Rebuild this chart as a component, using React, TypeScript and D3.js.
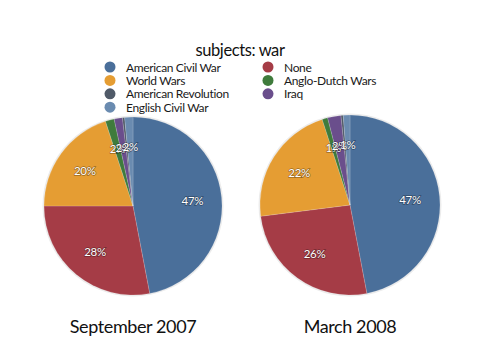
import React from "react";
import * as d3 from "d3";

// legend / slice order (clockwise from 12 o'clock)
const subjects = [
  "American Civil War",
  "None",
  "World Wars",
  "Anglo-Dutch Wars",
  "Iraq",
  "American Revolution",
  "English Civil War",
];
const colors = ["#4a6f9a", "#a53c46", "#e59d33", "#3f7b3c", "#6a4e8c", "#505a68", "#6a8bb0"];

// percentages
const sept2007 = [47, 28, 20, 1.6, 1.5, 0.4, 1.5];
const march2008 = [47, 26, 22, 1.0, 2.4, 0.4, 1.2];

const pieTitles = ["September 2007", "March 2008"];

// legend is laid out in two columns
const legendCol1 = ["American Civil War", "World Wars", "American Revolution", "English Civil War"];
const legendCol2 = ["None", "Anglo-Dutch Wars", "Iraq"];

const FONT = "Lato, 'Open Sans', sans-serif";

const Pie = ({ values, cx, cy, r }: { values: number[]; cx: number; cy: number; r: number }) => {
  const pie = d3.pie<number>().sort(null).value(d => d)(values);
  const arc = d3.arc<d3.PieArcDatum<number>>().innerRadius(0).outerRadius(r);
  const labelArc = d3.arc<d3.PieArcDatum<number>>().innerRadius(r * 0.67).outerRadius(r * 0.67);

  return (
    <g transform={`translate(${cx},${cy})`}>
      <circle r={r + 1.5} fill="#000" opacity={0.08} />
      {pie.map((d, i) => (
        <path key={i} d={arc(d) || ""} fill={colors[i]} stroke="#ffffff" strokeOpacity={0.25} strokeWidth={0.6} />
      ))}
      {pie.map((d, i) => {
        const pct = Math.round(d.data);
        if (pct < 1) return null;
        const [x, y] = labelArc.centroid(d);
        return (
          <text
            key={"t" + i}
            x={x}
            y={y}
            textAnchor="middle"
            dominantBaseline="central"
            fontFamily={FONT}
            fontSize={11.5}
            letterSpacing={-0.3}
            fill="#fff"
            style={{ paintOrder: "stroke" }}
            stroke="rgba(0,0,0,0.35)"
            strokeWidth={1.5}
          >
            {pct}%
          </text>
        );
      })}
    </g>
  );
};

export default function App() {
  const colorOf = (s: string) => colors[subjects.indexOf(s)];
  return (
    <svg
      width={480}
      height={360}
      style={{ position: "absolute", left: 0, top: 0, background: "#fff" }}
    >
      <text x={240} y={56} textAnchor="middle" fontFamily={FONT} fontSize={16.5} letterSpacing={-0.4} fill="#111">
        subjects: war
      </text>
      {legendCol1.map((s, i) => (
        <g key={s} transform={`translate(110,${67 + i * 13.4})`}>
          <circle r={5.5} fill={colorOf(s)} />
          <text x={16} y={4.5} fontFamily={FONT} fontSize={12} letterSpacing={-0.35} fill="#1a1a1a">
            {s}
          </text>
        </g>
      ))}
      {legendCol2.map((s, i) => (
        <g key={s} transform={`translate(268,${67 + i * 13.4})`}>
          <circle r={5.5} fill={colorOf(s)} />
          <text x={16} y={4.5} fontFamily={FONT} fontSize={12} letterSpacing={-0.35} fill="#1a1a1a">
            {s}
          </text>
        </g>
      ))}
      <Pie values={sept2007} cx={133} cy={206} r={89} />
      <Pie values={march2008} cx={350} cy={205} r={90} />
      {pieTitles.map((t, i) => (
        <text
          key={t}
          x={i === 0 ? 133 : 350}
          y={333}
          textAnchor="middle"
          fontFamily={FONT}
          fontSize={18}
          letterSpacing={-0.4}
          fill="#111"
        >
          {t}
        </text>
      ))}
    </svg>
  );
}
